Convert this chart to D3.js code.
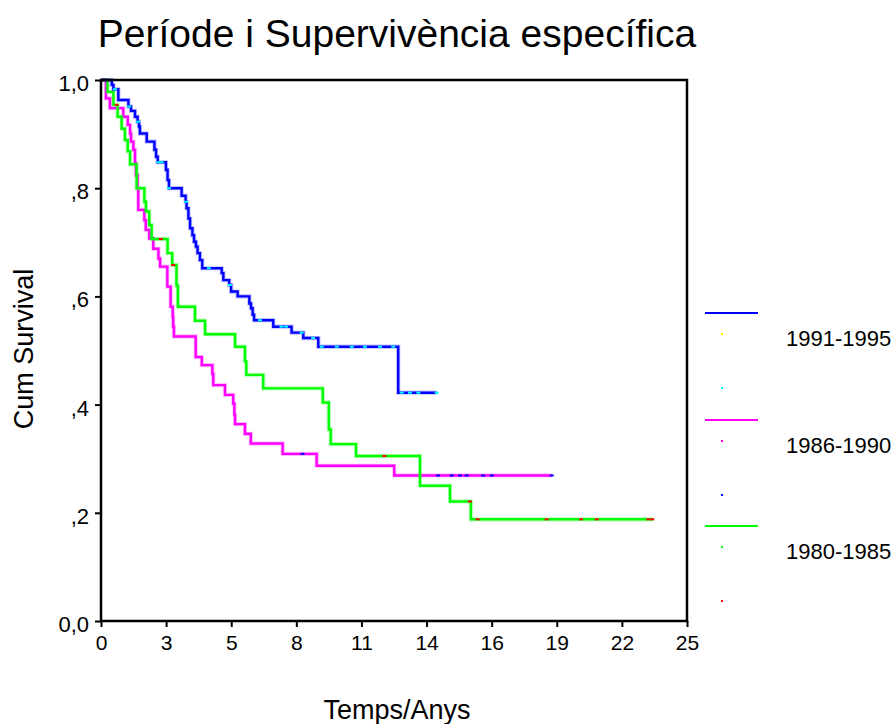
<!DOCTYPE html>
<html>
<head>
<meta charset="utf-8">
<script src="https://cdn.jsdelivr.net/npm/d3@7/dist/d3.min.js"></script>
<style>
  html, body { margin: 0; padding: 0; background: #fff; }
  svg { display: block; }
  text { font-family: "Liberation Sans", Arial, sans-serif; fill: #000; }
</style>
</head>
<body>
<svg id="chart" width="892" height="724"></svg>
<script>
// ---- data ----
const title = "Període i Supervivència específica";
const xTitle = "Temps/Anys";
const yTitle = "Cum Survival";
const xTickLabels = ["0", "3", "5", "8", "11", "14", "16", "19", "22", "25"];
const yTickValues = [0, 0.2, 0.4, 0.6, 0.8, 1.0];
const yTickLabels = ["0,0", ",2", ",4", ",6", ",8", "1,0"];
const groups = ["1991-1995", "1986-1990", "1980-1985"];

// 1991-1995
const t1991 = [0, 0.46, 0.53, 0.74, 1.17, 1.28, 1.45, 1.56, 1.62, 1.66, 1.95, 2.28, 2.35, 2.42, 2.77, 2.84, 2.90, 3.44, 3.61, 3.65, 3.73, 3.80, 3.90, 3.97, 4.05, 4.12, 4.22, 4.32, 5.15, 5.22, 5.47, 5.55, 5.83, 6.33, 6.40, 6.47, 6.53, 7.35, 8.13, 8.63, 9.27, 12.68];
const s1991 = [1, 0.991, 0.983, 0.963, 0.951, 0.943, 0.932, 0.923, 0.914, 0.901, 0.886, 0.871, 0.858, 0.848, 0.834, 0.815, 0.800, 0.786, 0.775, 0.763, 0.744, 0.726, 0.713, 0.701, 0.692, 0.680, 0.667, 0.652, 0.643, 0.630, 0.621, 0.609, 0.600, 0.587, 0.578, 0.566, 0.556, 0.544, 0.533, 0.523, 0.507, 0.422];
const end1991 = 14.32;
const c1991 = [0.6, 1.2, 1.59, 2.45, 2.59, 2.9, 3.63, 4.6, 5.5, 6.78, 7.7, 7.9, 8.56, 9.05, 9.42, 10.06, 10.7, 11.26, 11.9, 12.47, 12.83, 13.18, 13.54, 14.32];

// 1986-1990
const t1986 = [0, 0.21, 0.38, 0.95, 1.14, 1.24, 1.28, 1.38, 1.45, 1.49, 1.56, 1.59, 1.85, 1.91, 2.06, 2.23, 2.45, 2.52, 2.83, 2.97, 3.06, 3.08, 3.11, 4.04, 4.30, 4.75, 4.79, 5.29, 5.64, 5.69, 5.72, 6.14, 6.39, 7.75, 9.20, 12.51];
const s1986 = [1, 0.966, 0.948, 0.932, 0.917, 0.901, 0.886, 0.871, 0.846, 0.824, 0.800, 0.760, 0.741, 0.723, 0.707, 0.688, 0.670, 0.655, 0.618, 0.581, 0.562, 0.544, 0.526, 0.488, 0.473, 0.457, 0.436, 0.418, 0.402, 0.381, 0.364, 0.346, 0.328, 0.309, 0.287, 0.269];
const end1986 = 19.23;
const c1986 = [2.2, 8.6, 14.38, 14.96, 15.32, 15.6, 16.3, 16.67, 19.23];

// 1980-1985
const t1980 = [0, 0.28, 0.53, 0.71, 0.88, 1.02, 1.14, 1.24, 1.52, 1.85, 1.92, 2.06, 2.16, 2.84, 3.04, 3.22, 3.28, 4.01, 4.44, 5.72, 6.14, 6.20, 6.92, 9.46, 9.72, 9.80, 10.88, 13.61, 14.89, 15.78];
const s1980 = [1, 0.978, 0.954, 0.932, 0.910, 0.889, 0.868, 0.844, 0.800, 0.775, 0.757, 0.732, 0.706, 0.680, 0.658, 0.620, 0.581, 0.555, 0.530, 0.507, 0.480, 0.455, 0.430, 0.404, 0.354, 0.327, 0.305, 0.250, 0.221, 0.188];
const end1980 = 23.56;
const c1980 = [0.67, 2.55, 3.08, 12.09, 15.74, 16.07, 19.01, 20.48, 21.15, 23.35, 23.52];

// ---- layout / styles ----
const svg = d3.select("#chart");
const L = 101, R = 687, T = 80, B = 621;
const x = d3.scaleLinear().domain([0, 25]).range([L, R]);
const y = d3.scaleLinear().domain([0, 1]).range([B, T]);

const series = [
  { name: groups[1], t: t1986, s: s1986, end: end1986, c: c1986, line: "#ff00ff", cens: "#0000ff", dot: "#ff00ff" },
  { name: groups[2], t: t1980, s: s1980, end: end1980, c: c1980, line: "#00ff00", cens: "#ff0000", dot: "#00ff00" },
  { name: groups[0], t: t1991, s: s1991, end: end1991, c: c1991, line: "#0000ff", cens: "#00ffff", dot: "#ffff00" }
];

// title
svg.append("text").attr("x", 397).attr("y", 47).attr("text-anchor", "middle")
  .style("font-size", "39px").text(title);

// curves
const lineGen = d3.line().x(d => x(d[0])).y(d => y(d[1])).curve(d3.curveStepAfter);
series.forEach(sr => {
  const pts = sr.t.map((tt, i) => [tt, sr.s[i]]);
  pts.push([sr.end, sr.s[sr.s.length - 1]]);
  svg.append("path").datum(pts).attr("d", lineGen)
    .attr("fill", "none").attr("stroke", sr.line).attr("stroke-opacity", 0.25).attr("stroke-width", 4.2);
  svg.append("path").datum(pts).attr("d", lineGen)
    .attr("fill", "none").attr("stroke", sr.line).attr("stroke-width", 2.4);
  const survAt = tt => sr.s[Math.max(0, d3.bisectRight(sr.t, tt) - 1)];
  svg.append("g").selectAll("rect").data(sr.c).join("rect")
    .attr("x", d => x(d) - 2).attr("y", d => y(survAt(d)) - 1)
    .attr("width", 4).attr("height", 2).attr("fill", sr.cens);
});

// frame
svg.append("rect").attr("x", L).attr("y", T).attr("width", R - L).attr("height", B - T)
  .attr("fill", "none").attr("stroke", "#000").attr("stroke-width", 2.5);

// axes
const xTickVals = xTickLabels.map((_, i) => i * 25 / 9);
const xAxis = d3.axisBottom(x).tickValues(xTickVals).tickSize(6).tickPadding(6)
  .tickFormat((d, i) => xTickLabels[i]);
const gx = svg.append("g").attr("transform", `translate(0,${B})`).call(xAxis);
gx.select(".domain").remove();
gx.selectAll("line").attr("stroke", "#000").attr("stroke-width", 2);
gx.selectAll("text").style("font-size", "21px").attr("font-family", "Liberation Sans, Arial, sans-serif").attr("dy", "0.75em").attr("y", 13);

const yAxis = d3.axisLeft(y).tickValues(yTickValues).tickSize(6).tickPadding(8)
  .tickFormat((d, i) => yTickLabels[i]);
const gy = svg.append("g").attr("transform", `translate(${L},0)`).call(yAxis);
gy.select(".domain").remove();
gy.selectAll("line").attr("stroke", "#000").attr("stroke-width", 2);
gy.selectAll("text").style("font-size", "22px").attr("font-family", "Liberation Sans, Arial, sans-serif").attr("dy", "0.48em").attr("x", -12);

// axis titles
svg.append("text").attr("x", 397).attr("y", 719).attr("text-anchor", "middle")
  .style("font-size", "27px").text(xTitle);
svg.append("text").attr("transform", "translate(33,349) rotate(-90)").attr("text-anchor", "middle")
  .style("font-size", "27px").text(yTitle);

// legend (order as in reference: 1991-1995, 1986-1990, 1980-1985)
const legOrder = [series[2], series[0], series[1]];
const legY = d3.scaleLinear().domain([0, 1]).range([313, 420]);
legOrder.forEach((sr, i) => {
  const y0 = legY(i) + (i === 2 ? -1 : 0);
  const g = svg.append("g").attr("transform", `translate(0,${y0})`);
  g.append("line").attr("x1", 705).attr("x2", 758).attr("y1", 0).attr("y2", 0)
    .attr("stroke", sr.line).attr("stroke-width", 2);
  g.append("rect").attr("x", 721).attr("y", 20).attr("width", 2).attr("height", 2).attr("fill", sr.dot);
  g.append("rect").attr("x", 721).attr("y", 74).attr("width", 2).attr("height", 2).attr("fill", sr.cens);
  g.append("text").attr("x", 786).attr("y", 33).style("font-size", "22px").text(sr.name);
});
</script>
</body>
</html>
